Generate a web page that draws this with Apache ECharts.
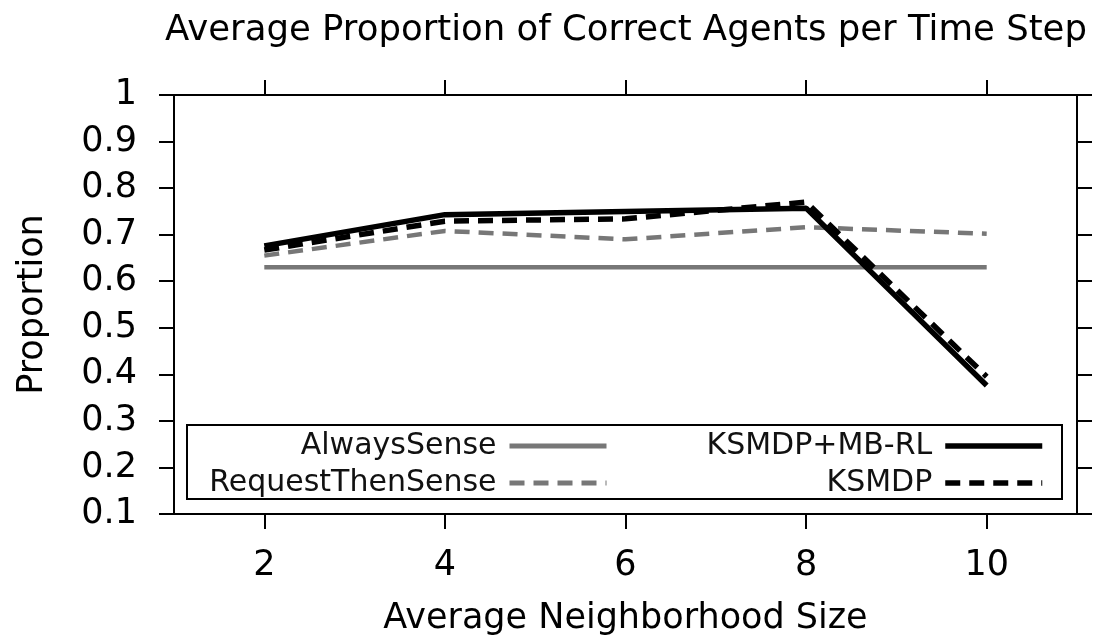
<!DOCTYPE html>
<html lang="en">
<head>
    <meta charset="UTF-8">
    <title>Average Proportion of Correct Agents per Time Step</title>
    <style>
        html, body { margin: 0; padding: 0; background: #fff; }
        #chart { width: 1096px; height: 639px; }
    </style>
</head>
<body>
<div id="chart"></div>
<script src="https://cdn.jsdelivr.net/npm/echarts@6/dist/echarts.min.js"></script>
<script>
    // neighborhood sizes
    var xValues = [2, 4, 6, 8, 10];
    var xTicks = [2, 4, 6, 8, 10];
    var alwaysSense = [0.63, 0.63, 0.63, 0.63, 0.63];
    var requestThenSense = [0.655, 0.708, 0.690, 0.716, 0.702];
    var ksmdpMbRl = [0.676, 0.743, 0.750, 0.757, 0.376];
    var ksmdp = [0.667, 0.729, 0.734, 0.770, 0.395];

    var font = 'DejaVu Sans';
    var gray = '#777777';

    function pairs(vals) {
        return xValues.map(function (x, i) { return [x, vals[i]]; });
    }

    var chart = echarts.init(document.getElementById('chart'));

    var axisLine = { show: true, lineStyle: { color: '#000', width: 2 } };
    var axisTick = { show: true, inside: false, length: 15, lineStyle: { color: '#000', width: 2 } };

    function legendAt(name, right, top, width) {
        return {
            data: [name],
            right: right,
            top: top,
            orient: 'horizontal',
            align: 'right',
            padding: 0,
            itemWidth: 97,
            itemHeight: 30,
            selectedMode: false,
            itemStyle: { opacity: 0 },
            lineStyle: { width: width },
            textStyle: { fontFamily: font, fontSize: 30, color: '#111', padding: [0, 8, 0, 0] }
        };
    }

    var option = {
        animation: false,
        title: {
            text: 'Average Proportion of Correct Agents per Time Step',
            left: 165,
            top: 13,
            padding: 0,
            textStyle: { fontFamily: font, fontSize: 35.5, fontWeight: 'normal', color: '#000' }
        },
        grid: { left: 174, right: 19, top: 95, bottom: 125, containLabel: false, outerBoundsMode: 'none' },
        xAxis: [{
            type: 'value',
            position: 'bottom',
            min: 1,
            max: 11,
            name: 'Average Neighborhood Size',
            nameLocation: 'middle',
            nameGap: 87,
            nameTextStyle: { fontFamily: font, fontSize: 35, color: '#000' },
            axisLine: axisLine,
            axisTick: { show: true, length: 15, lineStyle: { color: '#000', width: 2 }, customValues: xTicks },
            axisLabel: { fontFamily: font, fontSize: 35, color: '#000', margin: 34, customValues: xTicks },
            splitLine: { show: false }
        }, {
            type: 'value',
            position: 'top',
            min: 1,
            max: 11,
            axisLine: axisLine,
            axisTick: { show: true, length: 15, lineStyle: { color: '#000', width: 2 }, customValues: xTicks },
            axisLabel: { show: false },
            splitLine: { show: false }
        }],
        yAxis: [{
            type: 'value',
            position: 'left',
            min: 0.1,
            max: 1,
            interval: 0.1,
            name: 'Proportion',
            nameLocation: 'middle',
            nameGap: 124,
            nameTextStyle: { fontFamily: font, fontSize: 35, color: '#000' },
            axisLine: axisLine,
            axisTick: axisTick,
            axisLabel: {
                fontFamily: font, fontSize: 35, color: '#000', margin: 37,
                formatter: function (v) { return Math.abs(v - 1) < 1e-9 ? '1' : v.toFixed(1); }
            },
            splitLine: { show: false }
        }, {
            type: 'value',
            position: 'right',
            min: 0.1,
            max: 1,
            interval: 0.1,
            axisLine: axisLine,
            axisTick: axisTick,
            axisLabel: { show: false },
            splitLine: { show: false }
        }],
        legend: [
            legendAt('AlwaysSense', 487, 431, 5),
            legendAt('RequestThenSense', 487, 468, 5),
            legendAt('KSMDP+MB-RL', 51, 431, 5.5),
            legendAt('KSMDP', 51, 468, 5.5)
        ],
        graphic: [{
            type: 'rect',
            z: 0,
            shape: { x: 187, y: 425, width: 875, height: 74 },
            style: { fill: '#fff', stroke: '#000', lineWidth: 2 }
        }],
        series: [{
            name: 'AlwaysSense',
            type: 'line',
            data: pairs(alwaysSense),
            symbol: 'none',
            lineStyle: { color: gray, width: 4.5 },
            itemStyle: { color: gray }
        }, {
            name: 'RequestThenSense',
            type: 'line',
            data: pairs(requestThenSense),
            symbol: 'none',
            lineStyle: { color: gray, width: 4.5, type: [15, 9] },
            itemStyle: { color: gray }
        }, {
            name: 'KSMDP+MB-RL',
            type: 'line',
            data: pairs(ksmdpMbRl),
            symbol: 'none',
            lineStyle: { color: '#000', width: 5.5 },
            itemStyle: { color: '#000' }
        }, {
            name: 'KSMDP',
            type: 'line',
            data: pairs(ksmdp),
            symbol: 'none',
            lineStyle: { color: '#000', width: 5.5, type: [15, 9] },
            itemStyle: { color: '#000' }
        }]
    };

    chart.setOption(option);
</script>
</body>
</html>
